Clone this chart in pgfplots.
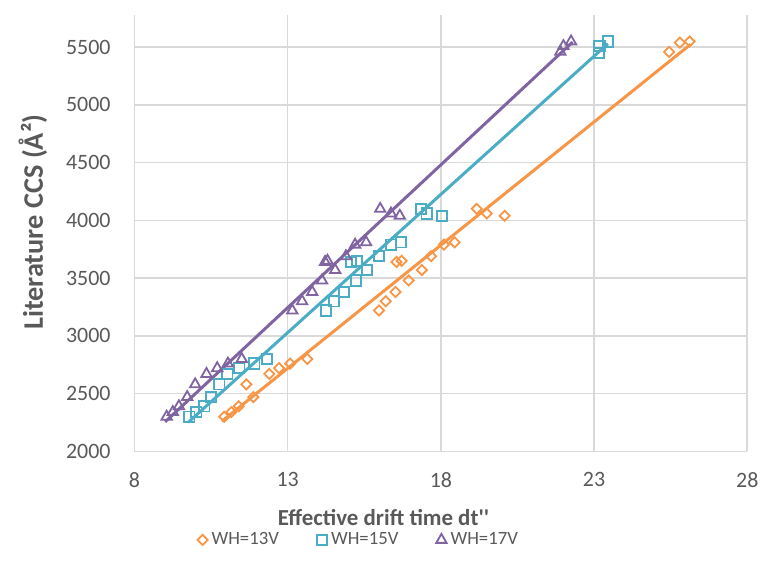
\documentclass[border=0pt]{standalone}
\usepackage{pgfplots}
\pgfplotsset{compat=1.18}
\usepackage{fontspec}
\setmainfont{Carlito}

\definecolor{orng}{HTML}{F79646}
\definecolor{aqua}{HTML}{4BACC6}
\definecolor{purp}{HTML}{8064A2}
\definecolor{gridc}{HTML}{D9D9D9}
\definecolor{txt}{HTML}{595959}

\begin{document}
\begin{tikzpicture}
\begin{axis}[
    scale only axis,
    width=307.5pt, height=219pt,
    xmin=8, xmax=28,
    ymin=2000, ymax=5780,
    xtick={8,13,18,23,28},
    ytick={2000,2500,...,5500},
    grid=major,
    major grid style={line width=0.8pt, draw=gridc},
    axis line style={draw=gridc, line width=0.8pt},
    axis x line*=bottom, axis y line*=left,
    tick style={draw=none},
    /pgf/number format/assume math mode=true,
    /pgf/number format/1000 sep={},
    tick label style={font=\fontsize{11}{13}\selectfont, text=txt},
    yticklabel style={xshift=-8.5pt},
    xticklabel style={yshift=-7pt},
    xlabel={Effective drift time dt\textquotesingle\textquotesingle},
    ylabel={Literature CCS (Å²)},
    xlabel style={at={(axis description cs:0.4065,-0.169)}, anchor=base,
        font=\bfseries\fontsize{11.5}{13}\selectfont, text=txt},
    ylabel style={at={(axis description cs:-0.166,0.525)}, anchor=center,
        font=\bfseries\fontsize{14.2}{16}\selectfont, text=txt},
    legend columns=3,
    legend style={at={(axis description cs:0.3675,-0.203)}, anchor=center,
        draw=none, fill=none, font=\fontsize{9.4}{11}\selectfont, text=txt,
        inner sep=1pt,
        /tikz/every even column/.append style={column sep=17pt}},
    legend image code/.code={\draw[mark repeat=2,mark phase=2,#1]
        plot coordinates {(0cm,0cm)(0.13cm,0cm)(0.26cm,0cm)};},
    clip=false,
]
% WH=13V
\addplot[only marks, mark=square, mark size=1.8pt,
    mark options={rotate=45, draw=orng, fill=white, line width=0.9pt}] coordinates {
    (10.93,2300) (11.16,2340) (11.40,2390) (11.65,2580) (11.88,2470)
    (12.40,2670) (12.72,2720) (13.08,2760) (13.64,2800)
    (15.98,3220) (16.20,3300) (16.52,3380) (16.95,3480) (17.38,3570)
    (16.55,3640) (16.72,3650) (17.68,3690) (18.10,3790) (18.45,3810)
    (19.17,4100) (19.50,4060) (20.08,4040)
    (25.45,5460) (25.80,5540) (26.12,5550)
};
\addlegendentry{WH=13V}
% WH=15V
\addplot[only marks, mark=square, mark size=2.6pt,
    mark options={draw=aqua, fill=white, line width=0.9pt}] coordinates {
    (9.79,2300) (10.02,2340) (10.28,2390) (10.50,2470) (10.77,2580)
    (11.03,2670) (11.42,2720) (11.91,2760) (12.33,2800)
    (14.25,3220) (14.51,3300) (14.84,3380) (15.23,3480) (15.59,3570)
    (15.07,3640) (15.26,3650) (15.98,3690) (16.37,3790) (16.70,3810)
    (17.35,4100) (17.54,4060) (18.03,4040)
    (23.15,5450) (23.18,5510) (23.45,5550)
};
\addlegendentry{WH=15V}
% WH=17V
\addplot[only marks, mark=triangle, mark size=3pt,
    mark options={draw=purp, fill=white, line width=0.9pt}] coordinates {
    (9.05,2300) (9.25,2340) (9.45,2390) (9.72,2470) (9.98,2580)
    (10.35,2670) (10.70,2720) (11.05,2760) (11.50,2800)
    (13.15,3220) (13.47,3300) (13.80,3380) (14.12,3480) (14.55,3570)
    (14.22,3640) (14.30,3650) (14.90,3690) (15.20,3790) (15.56,3810)
    (16.02,4100) (16.37,4060) (16.66,4040)
    (21.90,5460) (22.00,5510) (22.25,5550)
};
\addlegendentry{WH=17V}
% trend lines
\addplot[forget plot, orng, line width=1.5pt] coordinates {(10.85,2260) (26.15,5525)};
\addplot[forget plot, aqua, line width=1.5pt] coordinates {(9.75,2250) (23.45,5530)};
\addplot[forget plot, purp, line width=1.5pt] coordinates {(9.00,2255) (22.30,5545)};
% page extent
\path (rel axis cs:-0.2195,-0.267) rectangle (rel axis cs:1.0244,1.0342);
\end{axis}
\end{tikzpicture}
\end{document}
